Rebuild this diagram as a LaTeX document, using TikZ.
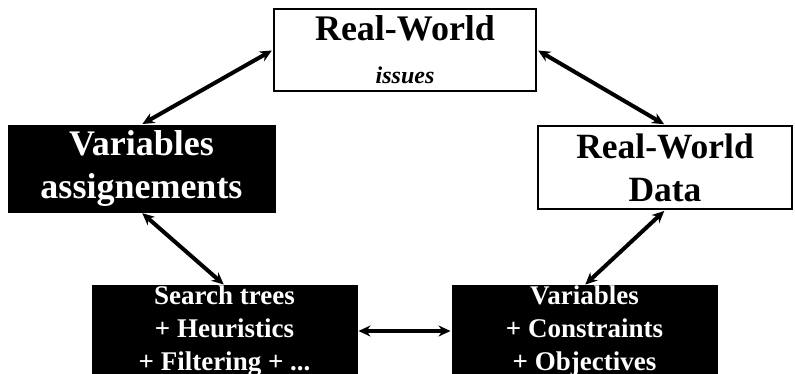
\documentclass[tikz,border=0pt]{standalone}
\usepackage{fontspec}
\setmainfont{Liberation Serif}
\usetikzlibrary{arrows.meta, positioning}

\tikzset{
    whitebox/.style={rectangle, draw=black, line width=2.5pt, fill=white,
                     text=black, align=center, inner sep=0pt},
    blackbox/.style={rectangle, draw=black, line width=1pt, fill=black,
                     text=white, align=center, inner sep=0pt},
    link/.style={{Stealth[length=12pt,width=11pt]}-{Stealth[length=12pt,width=11pt]},
                 line width=4pt, shorten <=1pt, shorten >=1pt}
}

\begin{document}
\begin{tikzpicture}[x=1pt, y=-1pt]
    \clip (0,0) rectangle (795,373);
    \fill[white] (0,0) rectangle (795,373);

    % Real-world side
    \node[whitebox, minimum width=262pt, minimum height=82pt,
          font=\fontsize{36}{43}\selectfont\bfseries] (issues) at (405,50) {
        Real-World\\
        {\fontsize{24}{43}\selectfont\itshape issues}
    };

    \node[whitebox, minimum width=254pt, minimum height=83pt,
          font=\fontsize{35.5}{43}\selectfont\bfseries] (data) at (665,167.5) {
        Real-World\\
        Data
    };

    % Solver side
    \node[blackbox, minimum width=267pt, minimum height=87pt,
          font=\fontsize{36}{43}\selectfont\bfseries] (assign) at (141.5,168.5) {
        Variables\\
        assignements
    };

    \node[blackbox, minimum width=265pt, minimum height=86pt,
          font=\fontsize{27}{33}\selectfont\bfseries] (search) at (224.5,331) {
        Search trees\\
        + Heuristics\\
        + Filtering + ...
    };

    \node[blackbox, minimum width=265pt, minimum height=86pt,
          font=\fontsize{27}{33}\selectfont\bfseries] (model) at (584.5,331) {
        Variables\\
        + Constraints\\
        + Objectives
    };

    % Cycle
    \draw[link] (assign.north) -- (issues.west);
    \draw[link] (issues.east) -- (data.north);
    \draw[link] (data.south) -- (model.north);
    \draw[link] (search.east) -- (model.west);
    \draw[link] (search.north) -- (assign.south);
\end{tikzpicture}
\end{document}
